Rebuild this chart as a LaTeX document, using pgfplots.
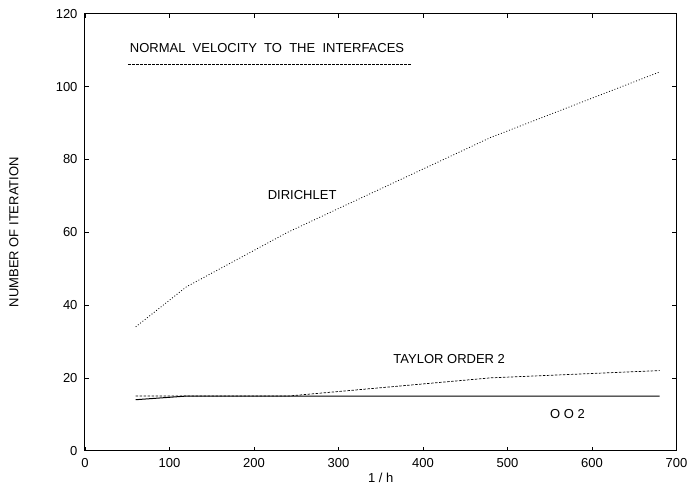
\documentclass[border=0pt]{standalone}
\usepackage{pgfplots}
\pgfplotsset{compat=1.18}
\usepackage{fontspec}
\setmainfont{Liberation Sans}
\begin{document}
\begin{tikzpicture}
\useasboundingbox (-85pt,-36.3pt) rectangle (604pt,450.7pt);
\begin{axis}[
  at={(0,0)}, anchor=south west,
  scale only axis, width=591.5pt, height=437pt,
  xmin=0, xmax=700, ymin=0, ymax=120,
  xtick={0,100,...,700}, ytick={0,20,...,120},
  tick align=inside, major tick length=4pt,
  tick style={black, line width=0.6pt},
  axis line style={line width=1pt},
  /pgf/number format/assume math mode=true,
  ticklabel style={font=\fontsize{13}{15}\selectfont},
  yticklabel style={xshift=-4pt},
  xticklabel style={yshift=-4pt},
  xlabel={1 / h}, ylabel={NUMBER OF ITERATION},
  label style={font=\fontsize{13}{15}\selectfont},
  xlabel style={at={(axis description cs:0.5,-0.0625)}, anchor=center},
  ylabel style={at={(axis description cs:-0.12,0.5)}, anchor=center},
  clip=false,
]
% key line
\addplot[black, line width=0.7pt, dash pattern=on 2.5pt off 1.5pt] coordinates {(50.9,106.1) (387,106.1)};
% Dirichlet
\addplot[black, line width=0.8pt, dash pattern=on 0.9pt off 2pt] coordinates {
(60,34) (120,45) (240,60) (480,86) (680,104)};
% Taylor order 2
\addplot[black, line width=0.7pt, dash pattern=on 2.5pt off 1.5pt] coordinates {
(60,15) (120,15) (240,15) (480,20) (680,22)};
% OO2
\addplot[black, line width=1pt] coordinates {
(60,14) (120,15) (240,15) (480,15) (680,15)};
\node[font=\fontsize{13}{15}\selectfont] at (axis cs:215.4,110.5) {NORMAL\ \ VELOCITY\ \ TO\ \ THE\ \ INTERFACES};
\node[font=\fontsize{13}{15}\selectfont] at (axis cs:257,70.2) {DIRICHLET};
\node[font=\fontsize{13}{15}\selectfont] at (axis cs:431,25.2) {TAYLOR ORDER 2};
\node[font=\fontsize{13}{15}\selectfont] at (axis cs:571,10.1) {O O 2};
\end{axis}
\end{tikzpicture}
\end{document}
